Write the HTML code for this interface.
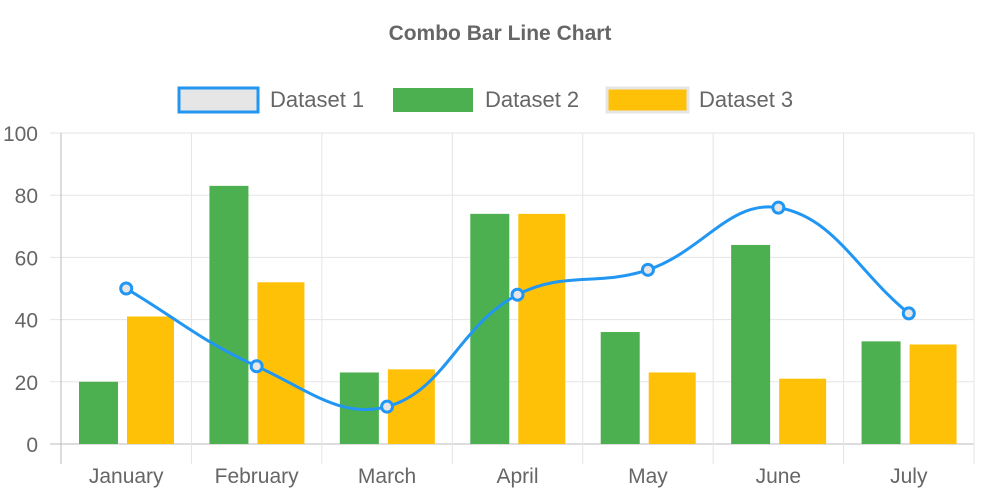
<!DOCTYPE html>
<html><head><meta charset="utf-8"><style>
body{margin:0;background:#fff;}
svg{display:block;font-family:"Liberation Sans",sans-serif;}
</style></head><body>
<svg id="chart" width="1000" height="500">
<text x="500" y="40" text-anchor="middle" font-size="21" font-weight="bold" fill="#666">Combo Bar Line Chart</text>
<g>
<g><rect x="179" y="88" width="79" height="24" fill="#e6e6e6" stroke="#2196f3" stroke-width="3"/><text x="270" y="107" font-size="22" fill="#666">Dataset 1</text></g>
<g><rect x="393" y="88" width="80" height="24" fill="#4caf50"/><text x="485" y="107" font-size="22" fill="#666">Dataset 2</text></g>
<g><rect x="607" y="88" width="81" height="24" fill="#ffc107" stroke="#e6e6e6" stroke-width="3"/><text x="699" y="107" font-size="22" fill="#666">Dataset 3</text></g>
</g>
<g id="grid"></g><g id="bars"></g><g id="line"></g><g id="labels"></g>
</svg>
<script>
const categories=["January","February","March","April","May","June","July"];
const dataset1=[50,25,12,48,56,76,42];
const dataset2=[20,83,23,74,36,64,33];
const dataset3=[41,52,24,74,23,21,32];
const yTicks=[0,20,40,60,80,100];
const NS="http://www.w3.org/2000/svg";
const L=61,R=974,T=133,B=444;
const cw=(R-L)/categories.length;
const y=v=>B-(v/100)*(B-T);
const xc=i=>L+cw*(i+0.5);
function mk(tag,attrs,parent){const e=document.createElementNS(NS,tag);for(const k in attrs)e.setAttribute(k,attrs[k]);parent.appendChild(e);return e;}
const grid=document.getElementById('grid'),bars=document.getElementById('bars'),line=document.getElementById('line'),labels=document.getElementById('labels');
yTicks.forEach(t=>{
 const g=mk('line',{x1:50,x2:R,y1:y(t),y2:y(t),stroke:t===0?'#bbb':'#e5e5e5','stroke-width':1},grid);
 
 
 const tx=mk('text',{x:38,y:y(t)+8,'text-anchor':'end','font-size':21,fill:'#666'},labels);
 tx.textContent=t;
 
 
});
for(let i=0;i<=categories.length;i++){
 const x=L+cw*i;
 const g=mk('line',{x1:x,x2:x,y1:T,y2:B+20,stroke:i===0?'#bbb':'#e5e5e5','stroke-width':1},grid);
 
 
}
categories.forEach((c,i)=>{
 const s=L+cw*i;
 const b2=mk('rect',{x:s+18,y:y(dataset2[i]),width:39,height:B-y(dataset2[i]),fill:'#4caf50'},bars);
 
 
 const b3=mk('rect',{x:s+66,y:y(dataset3[i]),width:47,height:B-y(dataset3[i]),fill:'#ffc107'},bars);
 
 
 const tx=mk('text',{x:xc(i),y:483,'text-anchor':'middle','font-size':21,fill:'#666'},labels);
 tx.textContent=c;
 
 
});
const pts=dataset1.map((v,i)=>[xc(i),y(v)]);
const tension=0.4;
let d='M'+pts[0][0]+','+pts[0][1];
const cps=pts.map((p,i)=>{
 const prev=pts[i-1]||p,next=pts[i+1]||p;
 const d01=Math.hypot(p[0]-prev[0],p[1]-prev[1]),d12=Math.hypot(next[0]-p[0],next[1]-p[1]);
 const s01=d01/(d01+d12||1),s12=d12/(d01+d12||1);
 const fa=tension*s01,fb=tension*s12;
 return {prev:[p[0]-fa*(next[0]-prev[0]),p[1]-fa*(next[1]-prev[1])],next:[p[0]+fb*(next[0]-prev[0]),p[1]+fb*(next[1]-prev[1])]};
});
for(let i=1;i<pts.length;i++){
 d+=' C'+cps[i-1].next.join(',')+' '+cps[i].prev.join(',')+' '+pts[i].join(',');
}
const path=mk('path',{d:d,fill:'none',stroke:'#2196f3','stroke-width':3},line);


pts.forEach((p,i)=>{
 const c=mk('circle',{cx:p[0],cy:p[1],r:5.5,fill:'#e6e6e6',stroke:'#2196f3','stroke-width':3},line);
 
 
});
</script>
</body></html>
